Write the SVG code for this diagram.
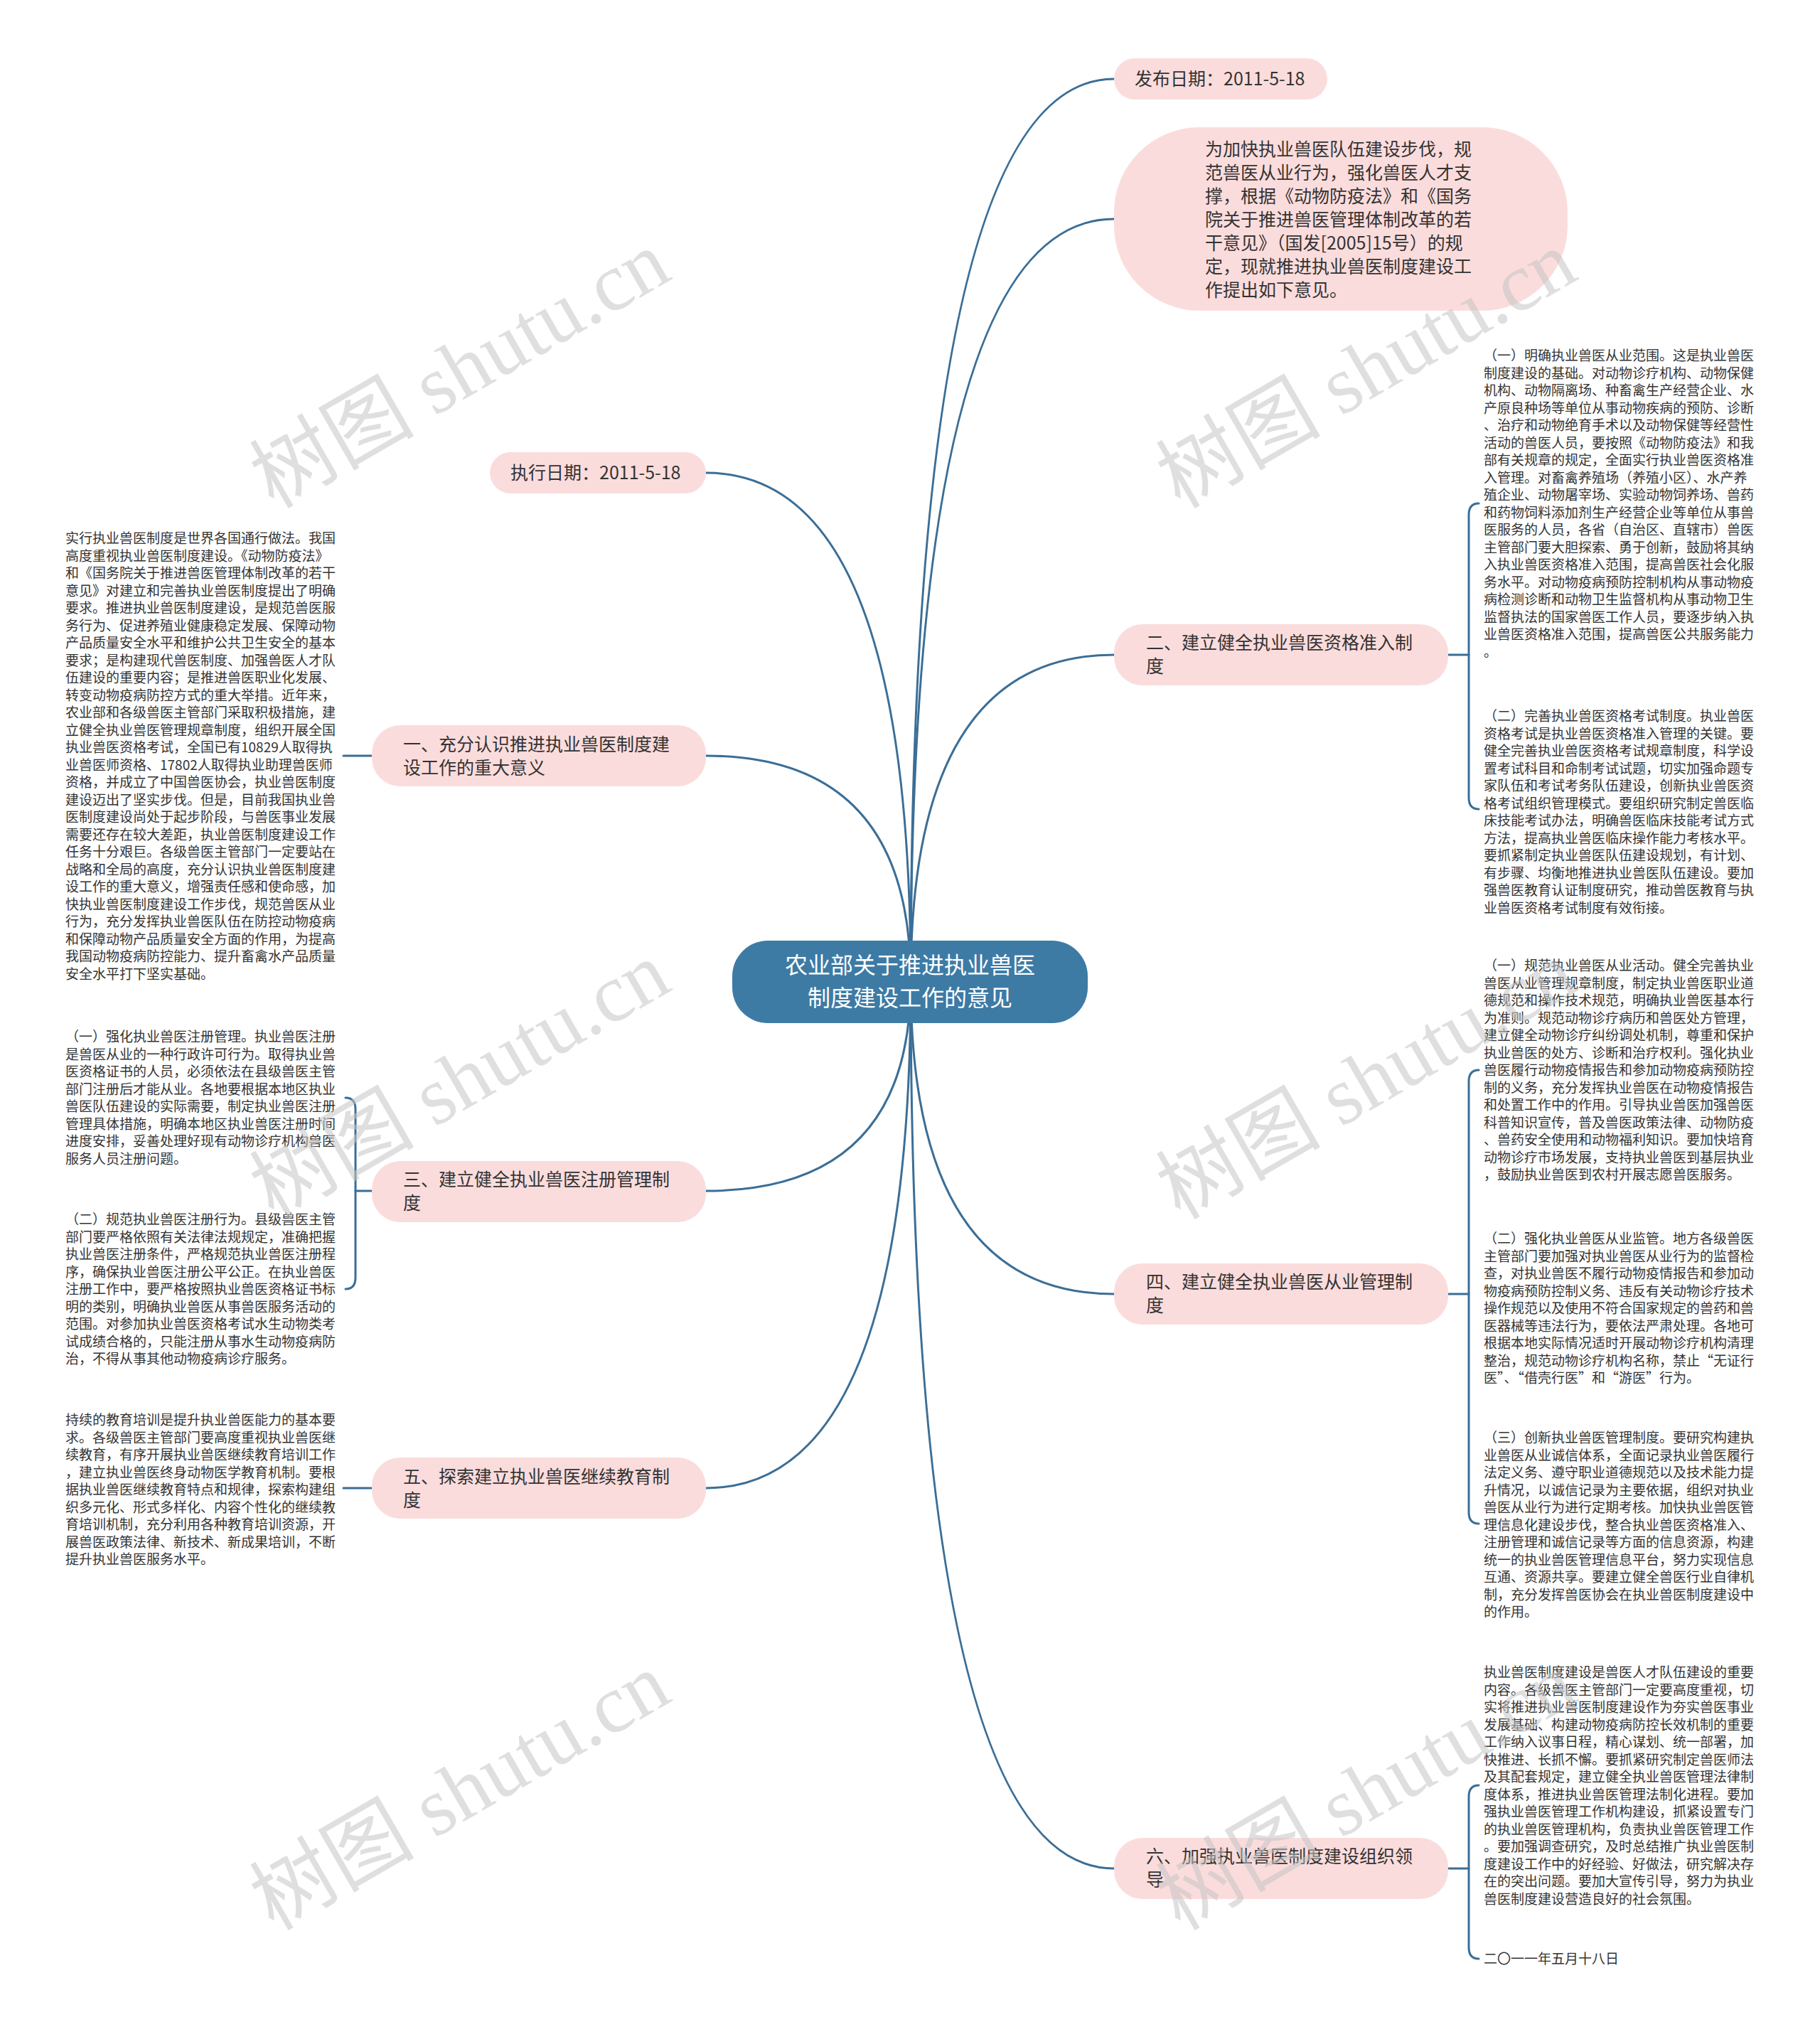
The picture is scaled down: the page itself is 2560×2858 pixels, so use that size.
<svg xmlns="http://www.w3.org/2000/svg" width="2560" height="2858" viewBox="0 0 2560 2858">
<style>
.conn{fill:none;stroke:#3b6e96;stroke-width:3;stroke-linecap:round}
.pill{fill:#fbdcdc}
.center{fill:#3d7ba5}
.t{font-family:"Noto Sans CJK SC","Noto Sans",sans-serif;fill:#333333}
.leaf{font-size:19px}
.nt{font-size:25px}
.ct{font-family:"Noto Sans CJK SC","Noto Sans",sans-serif;font-size:32px;fill:#ffffff;text-anchor:middle}
.wm{font-family:"Liberation Serif","Noto Sans CJK SC",serif;font-size:116px;fill:#c4c4c4;fill-opacity:0.55}
</style>
<rect x="0" y="0" width="2560" height="2858" fill="#ffffff"/>

<g id="connectors">
<path class="conn" d="M1281,1380 Q1281,111 1567,111"/>
<path class="conn" d="M1281,1380 Q1281,308 1567,308"/>
<path class="conn" d="M1281,1380 Q1281,921 1567,921"/>
<path class="conn" d="M1281,1380 Q1281,1820 1567,1820"/>
<path class="conn" d="M1281,1380 Q1281,2628 1567,2628"/>
<path class="conn" d="M1281,1380 Q1281,665 993,665"/>
<path class="conn" d="M1281,1380 Q1281,1063 993,1063"/>
<path class="conn" d="M1281,1380 Q1281,1675 993,1675"/>
<path class="conn" d="M1281,1380 Q1281,2093 993,2093"/>
<path class="conn" d="M2037,921 L2066,921"/>
<path class="conn" d="M2080,708 Q2066,708 2066,724 L2066,1122 Q2066,1138 2080,1138"/>
<path class="conn" d="M2037,1820 L2066,1820"/>
<path class="conn" d="M2080,1505 Q2066,1505 2066,1521 L2066,2127 Q2066,2143 2080,2143"/>
<path class="conn" d="M2037,2628 L2066,2628"/>
<path class="conn" d="M2080,2511 Q2066,2511 2066,2527 L2066,2739 Q2066,2755 2080,2755"/>
<path class="conn" d="M523,1675 L500,1675"/>
<path class="conn" d="M486,1544 Q500,1544 500,1560 L500,1797 Q500,1813 486,1813"/>
<path class="conn" d="M483,1063 L523,1063"/>
<path class="conn" d="M483,2093 L523,2093"/>
</g>

<g id="center">
<rect class="center" x="1030" y="1323" width="500" height="116" rx="50"/>
<text class="ct"><tspan x="1280" y="1369">农业部关于推进执业兽医</tspan><tspan x="1280" y="1415">制度建设工作的意见</tspan></text>
</g>

<g id="n-fabu">
<rect class="pill" x="1567" y="82" width="300" height="58" rx="29"/>
<text class="t nt" x="1596" y="120">发布日期：2011-5-18</text>
</g>

<g id="n-intro">
<rect class="pill" x="1567" y="179" width="638" height="258" rx="120"/>
<text class="t nt"><tspan x="1695" y="219">为加快执业兽医队伍建设步伐，规</tspan><tspan x="1695" y="252">范兽医从业行为，强化兽医人才支</tspan><tspan x="1695" y="285">撑，根据《动物防疫法》和《国务</tspan><tspan x="1695" y="318">院关于推进兽医管理体制改革的若</tspan><tspan x="1695" y="351">干意见》（国发[2005]15号）的规</tspan><tspan x="1695" y="384">定，现就推进执业兽医制度建设工</tspan><tspan x="1695" y="417">作提出如下意见。</tspan></text>
</g>

<g id="n-zhixing">
<rect class="pill" x="689" y="636" width="304" height="58" rx="29"/>
<text class="t nt" x="718" y="674">执行日期：2011-5-18</text>
</g>

<g id="n-1">
<rect class="pill" x="523" y="1020" width="470" height="86" rx="40"/>
<text class="t nt"><tspan x="567" y="1056">一、充分认识推进执业兽医制度建</tspan><tspan x="567" y="1089">设工作的重大意义</tspan></text>
</g>
<g id="n-1-leaf">
<text class="t leaf"><tspan x="92" y="764">实行执业兽医制度是世界各国通行做法。我国</tspan><tspan x="92" y="788.5">高度重视执业兽医制度建设。《动物防疫法》</tspan><tspan x="92" y="813">和《国务院关于推进兽医管理体制改革的若干</tspan><tspan x="92" y="837.5">意见》对建立和完善执业兽医制度提出了明确</tspan><tspan x="92" y="862">要求。推进执业兽医制度建设，是规范兽医服</tspan><tspan x="92" y="886.5">务行为、促进养殖业健康稳定发展、保障动物</tspan><tspan x="92" y="911">产品质量安全水平和维护公共卫生安全的基本</tspan><tspan x="92" y="935.5">要求；是构建现代兽医制度、加强兽医人才队</tspan><tspan x="92" y="960">伍建设的重要内容；是推进兽医职业化发展、</tspan><tspan x="92" y="984.5">转变动物疫病防控方式的重大举措。近年来，</tspan><tspan x="92" y="1009">农业部和各级兽医主管部门采取积极措施，建</tspan><tspan x="92" y="1033.5">立健全执业兽医管理规章制度，组织开展全国</tspan><tspan x="92" y="1058">执业兽医资格考试，全国已有10829人取得执</tspan><tspan x="92" y="1082.5">业兽医师资格、17802人取得执业助理兽医师</tspan><tspan x="92" y="1107">资格，并成立了中国兽医协会，执业兽医制度</tspan><tspan x="92" y="1131.5">建设迈出了坚实步伐。但是，目前我国执业兽</tspan><tspan x="92" y="1156">医制度建设尚处于起步阶段，与兽医事业发展</tspan><tspan x="92" y="1180.5">需要还存在较大差距，执业兽医制度建设工作</tspan><tspan x="92" y="1205">任务十分艰巨。各级兽医主管部门一定要站在</tspan><tspan x="92" y="1229.5">战略和全局的高度，充分认识执业兽医制度建</tspan><tspan x="92" y="1254">设工作的重大意义，增强责任感和使命感，加</tspan><tspan x="92" y="1278.5">快执业兽医制度建设工作步伐，规范兽医从业</tspan><tspan x="92" y="1303">行为，充分发挥执业兽医队伍在防控动物疫病</tspan><tspan x="92" y="1327.5">和保障动物产品质量安全方面的作用，为提高</tspan><tspan x="92" y="1352">我国动物疫病防控能力、提升畜禽水产品质量</tspan><tspan x="92" y="1376.5">安全水平打下坚实基础。</tspan></text>
</g>

<g id="n-3">
<rect class="pill" x="523" y="1633" width="470" height="86" rx="40"/>
<text class="t nt"><tspan x="567" y="1668">三、建立健全执业兽医注册管理制</tspan><tspan x="567" y="1701">度</tspan></text>
</g>
<g id="n-3-leaf1">
<text class="t leaf"><tspan x="92" y="1465">（一）强化执业兽医注册管理。执业兽医注册</tspan><tspan x="92" y="1489.5">是兽医从业的一种行政许可行为。取得执业兽</tspan><tspan x="92" y="1514">医资格证书的人员，必须依法在县级兽医主管</tspan><tspan x="92" y="1538.5">部门注册后才能从业。各地要根据本地区执业</tspan><tspan x="92" y="1563">兽医队伍建设的实际需要，制定执业兽医注册</tspan><tspan x="92" y="1587.5">管理具体措施，明确本地区执业兽医注册时间</tspan><tspan x="92" y="1612">进度安排，妥善处理好现有动物诊疗机构兽医</tspan><tspan x="92" y="1636.5">服务人员注册问题。</tspan></text>
</g>
<g id="n-3-leaf2">
<text class="t leaf"><tspan x="92" y="1722">（二）规范执业兽医注册行为。县级兽医主管</tspan><tspan x="92" y="1746.5">部门要严格依照有关法律法规规定，准确把握</tspan><tspan x="92" y="1771">执业兽医注册条件，严格规范执业兽医注册程</tspan><tspan x="92" y="1795.5">序，确保执业兽医注册公平公正。在执业兽医</tspan><tspan x="92" y="1820">注册工作中，要严格按照执业兽医资格证书标</tspan><tspan x="92" y="1844.5">明的类别，明确执业兽医从事兽医服务活动的</tspan><tspan x="92" y="1869">范围。对参加执业兽医资格考试水生动物类考</tspan><tspan x="92" y="1893.5">试成绩合格的，只能注册从事水生动物疫病防</tspan><tspan x="92" y="1918">治，不得从事其他动物疫病诊疗服务。</tspan></text>
</g>

<g id="n-5">
<rect class="pill" x="523" y="2050" width="470" height="86" rx="40"/>
<text class="t nt"><tspan x="567" y="2086">五、探索建立执业兽医继续教育制</tspan><tspan x="567" y="2119">度</tspan></text>
</g>
<g id="n-5-leaf">
<text class="t leaf"><tspan x="92" y="2004">持续的教育培训是提升执业兽医能力的基本要</tspan><tspan x="92" y="2028.5">求。各级兽医主管部门要高度重视执业兽医继</tspan><tspan x="92" y="2053">续教育，有序开展执业兽医继续教育培训工作</tspan><tspan x="92" y="2077.5">，建立执业兽医终身动物医学教育机制。要根</tspan><tspan x="92" y="2102">据执业兽医继续教育特点和规律，探索构建组</tspan><tspan x="92" y="2126.5">织多元化、形式多样化、内容个性化的继续教</tspan><tspan x="92" y="2151">育培训机制，充分利用各种教育培训资源，开</tspan><tspan x="92" y="2175.5">展兽医政策法律、新技术、新成果培训，不断</tspan><tspan x="92" y="2200">提升执业兽医服务水平。</tspan></text>
</g>

<g id="n-2">
<rect class="pill" x="1567" y="878" width="470" height="86" rx="40"/>
<text class="t nt"><tspan x="1612" y="913">二、建立健全执业兽医资格准入制</tspan><tspan x="1612" y="946">度</tspan></text>
</g>
<g id="n-2-leaf1">
<text class="t leaf"><tspan x="2087" y="507">（一）明确执业兽医从业范围。这是执业兽医</tspan><tspan x="2087" y="531.5">制度建设的基础。对动物诊疗机构、动物保健</tspan><tspan x="2087" y="556">机构、动物隔离场、种畜禽生产经营企业、水</tspan><tspan x="2087" y="580.5">产原良种场等单位从事动物疾病的预防、诊断</tspan><tspan x="2087" y="605">、治疗和动物绝育手术以及动物保健等经营性</tspan><tspan x="2087" y="629.5">活动的兽医人员，要按照《动物防疫法》和我</tspan><tspan x="2087" y="654">部有关规章的规定，全面实行执业兽医资格准</tspan><tspan x="2087" y="678.5">入管理。对畜禽养殖场（养殖小区）、水产养</tspan><tspan x="2087" y="703">殖企业、动物屠宰场、实验动物饲养场、兽药</tspan><tspan x="2087" y="727.5">和药物饲料添加剂生产经营企业等单位从事兽</tspan><tspan x="2087" y="752">医服务的人员，各省（自治区、直辖市）兽医</tspan><tspan x="2087" y="776.5">主管部门要大胆探索、勇于创新，鼓励将其纳</tspan><tspan x="2087" y="801">入执业兽医资格准入范围，提高兽医社会化服</tspan><tspan x="2087" y="825.5">务水平。对动物疫病预防控制机构从事动物疫</tspan><tspan x="2087" y="850">病检测诊断和动物卫生监督机构从事动物卫生</tspan><tspan x="2087" y="874.5">监督执法的国家兽医工作人员，要逐步纳入执</tspan><tspan x="2087" y="899">业兽医资格准入范围，提高兽医公共服务能力</tspan><tspan x="2087" y="923.5">。</tspan></text>
</g>
<g id="n-2-leaf2">
<text class="t leaf"><tspan x="2087" y="1014">（二）完善执业兽医资格考试制度。执业兽医</tspan><tspan x="2087" y="1038.5">资格考试是执业兽医资格准入管理的关键。要</tspan><tspan x="2087" y="1063">健全完善执业兽医资格考试规章制度，科学设</tspan><tspan x="2087" y="1087.5">置考试科目和命制考试试题，切实加强命题专</tspan><tspan x="2087" y="1112">家队伍和考试考务队伍建设，创新执业兽医资</tspan><tspan x="2087" y="1136.5">格考试组织管理模式。要组织研究制定兽医临</tspan><tspan x="2087" y="1161">床技能考试办法，明确兽医临床技能考试方式</tspan><tspan x="2087" y="1185.5">方法，提高执业兽医临床操作能力考核水平。</tspan><tspan x="2087" y="1210">要抓紧制定执业兽医队伍建设规划，有计划、</tspan><tspan x="2087" y="1234.5">有步骤、均衡地推进执业兽医队伍建设。要加</tspan><tspan x="2087" y="1259">强兽医教育认证制度研究，推动兽医教育与执</tspan><tspan x="2087" y="1283.5">业兽医资格考试制度有效衔接。</tspan></text>
</g>

<g id="n-4">
<rect class="pill" x="1567" y="1777" width="470" height="86" rx="40"/>
<text class="t nt"><tspan x="1612" y="1812">四、建立健全执业兽医从业管理制</tspan><tspan x="1612" y="1845">度</tspan></text>
</g>
<g id="n-4-leaf1">
<text class="t leaf"><tspan x="2087" y="1365">（一）规范执业兽医从业活动。健全完善执业</tspan><tspan x="2087" y="1389.5">兽医从业管理规章制度，制定执业兽医职业道</tspan><tspan x="2087" y="1414">德规范和操作技术规范，明确执业兽医基本行</tspan><tspan x="2087" y="1438.5">为准则。规范动物诊疗病历和兽医处方管理，</tspan><tspan x="2087" y="1463">建立健全动物诊疗纠纷调处机制，尊重和保护</tspan><tspan x="2087" y="1487.5">执业兽医的处方、诊断和治疗权利。强化执业</tspan><tspan x="2087" y="1512">兽医履行动物疫情报告和参加动物疫病预防控</tspan><tspan x="2087" y="1536.5">制的义务，充分发挥执业兽医在动物疫情报告</tspan><tspan x="2087" y="1561">和处置工作中的作用。引导执业兽医加强兽医</tspan><tspan x="2087" y="1585.5">科普知识宣传，普及兽医政策法律、动物防疫</tspan><tspan x="2087" y="1610">、兽药安全使用和动物福利知识。要加快培育</tspan><tspan x="2087" y="1634.5">动物诊疗市场发展，支持执业兽医到基层执业</tspan><tspan x="2087" y="1659">，鼓励执业兽医到农村开展志愿兽医服务。</tspan></text>
</g>
<g id="n-4-leaf2">
<text class="t leaf"><tspan x="2087" y="1749">（二）强化执业兽医从业监管。地方各级兽医</tspan><tspan x="2087" y="1773.5">主管部门要加强对执业兽医从业行为的监督检</tspan><tspan x="2087" y="1798">查，对执业兽医不履行动物疫情报告和参加动</tspan><tspan x="2087" y="1822.5">物疫病预防控制义务、违反有关动物诊疗技术</tspan><tspan x="2087" y="1847">操作规范以及使用不符合国家规定的兽药和兽</tspan><tspan x="2087" y="1871.5">医器械等违法行为，要依法严肃处理。各地可</tspan><tspan x="2087" y="1896">根据本地实际情况适时开展动物诊疗机构清理</tspan><tspan x="2087" y="1920.5">整治，规范动物诊疗机构名称，禁止“无证行</tspan><tspan x="2087" y="1945">医”、“借壳行医”和“游医”行为。</tspan></text>
</g>
<g id="n-4-leaf3">
<text class="t leaf"><tspan x="2087" y="2029">（三）创新执业兽医管理制度。要研究构建执</tspan><tspan x="2087" y="2053.5">业兽医从业诚信体系，全面记录执业兽医履行</tspan><tspan x="2087" y="2078">法定义务、遵守职业道德规范以及技术能力提</tspan><tspan x="2087" y="2102.5">升情况，以诚信记录为主要依据，组织对执业</tspan><tspan x="2087" y="2127">兽医从业行为进行定期考核。加快执业兽医管</tspan><tspan x="2087" y="2151.5">理信息化建设步伐，整合执业兽医资格准入、</tspan><tspan x="2087" y="2176">注册管理和诚信记录等方面的信息资源，构建</tspan><tspan x="2087" y="2200.5">统一的执业兽医管理信息平台，努力实现信息</tspan><tspan x="2087" y="2225">互通、资源共享。要建立健全兽医行业自律机</tspan><tspan x="2087" y="2249.5">制，充分发挥兽医协会在执业兽医制度建设中</tspan><tspan x="2087" y="2274">的作用。</tspan></text>
</g>

<g id="n-6">
<rect class="pill" x="1567" y="2585" width="470" height="86" rx="40"/>
<text class="t nt"><tspan x="1612" y="2620">六、加强执业兽医制度建设组织领</tspan><tspan x="1612" y="2653">导</tspan></text>
</g>
<g id="n-6-leaf1">
<text class="t leaf"><tspan x="2087" y="2359">执业兽医制度建设是兽医人才队伍建设的重要</tspan><tspan x="2087" y="2383.5">内容。各级兽医主管部门一定要高度重视，切</tspan><tspan x="2087" y="2408">实将推进执业兽医制度建设作为夯实兽医事业</tspan><tspan x="2087" y="2432.5">发展基础、构建动物疫病防控长效机制的重要</tspan><tspan x="2087" y="2457">工作纳入议事日程，精心谋划、统一部署，加</tspan><tspan x="2087" y="2481.5">快推进、长抓不懈。要抓紧研究制定兽医师法</tspan><tspan x="2087" y="2506">及其配套规定，建立健全执业兽医管理法律制</tspan><tspan x="2087" y="2530.5">度体系，推进执业兽医管理法制化进程。要加</tspan><tspan x="2087" y="2555">强执业兽医管理工作机构建设，抓紧设置专门</tspan><tspan x="2087" y="2579.5">的执业兽医管理机构，负责执业兽医管理工作</tspan><tspan x="2087" y="2604">。要加强调查研究，及时总结推广执业兽医制</tspan><tspan x="2087" y="2628.5">度建设工作中的好经验、好做法，研究解决存</tspan><tspan x="2087" y="2653">在的突出问题。要加大宣传引导，努力为执业</tspan><tspan x="2087" y="2677.5">兽医制度建设营造良好的社会氛围。</tspan></text>
</g>
<g id="n-6-leaf2">
<text class="t leaf" x="2087" y="2762">二〇一一年五月十八日</text>
</g>

<g id="watermarks">
<text class="wm" transform="translate(647,520) rotate(-30)" text-anchor="middle" dominant-baseline="central">树图 shutu.cn</text>
<text class="wm" transform="translate(1922,520) rotate(-30)" text-anchor="middle" dominant-baseline="central">树图 shutu.cn</text>
<text class="wm" transform="translate(647,1520) rotate(-30)" text-anchor="middle" dominant-baseline="central">树图 shutu.cn</text>
<text class="wm" transform="translate(1922,1520) rotate(-30)" text-anchor="middle" dominant-baseline="central">树图 shutu.cn</text>
<text class="wm" transform="translate(647,2520) rotate(-30)" text-anchor="middle" dominant-baseline="central">树图 shutu.cn</text>
<text class="wm" transform="translate(1922,2520) rotate(-30)" text-anchor="middle" dominant-baseline="central">树图 shutu.cn</text>
</g>
</svg>
